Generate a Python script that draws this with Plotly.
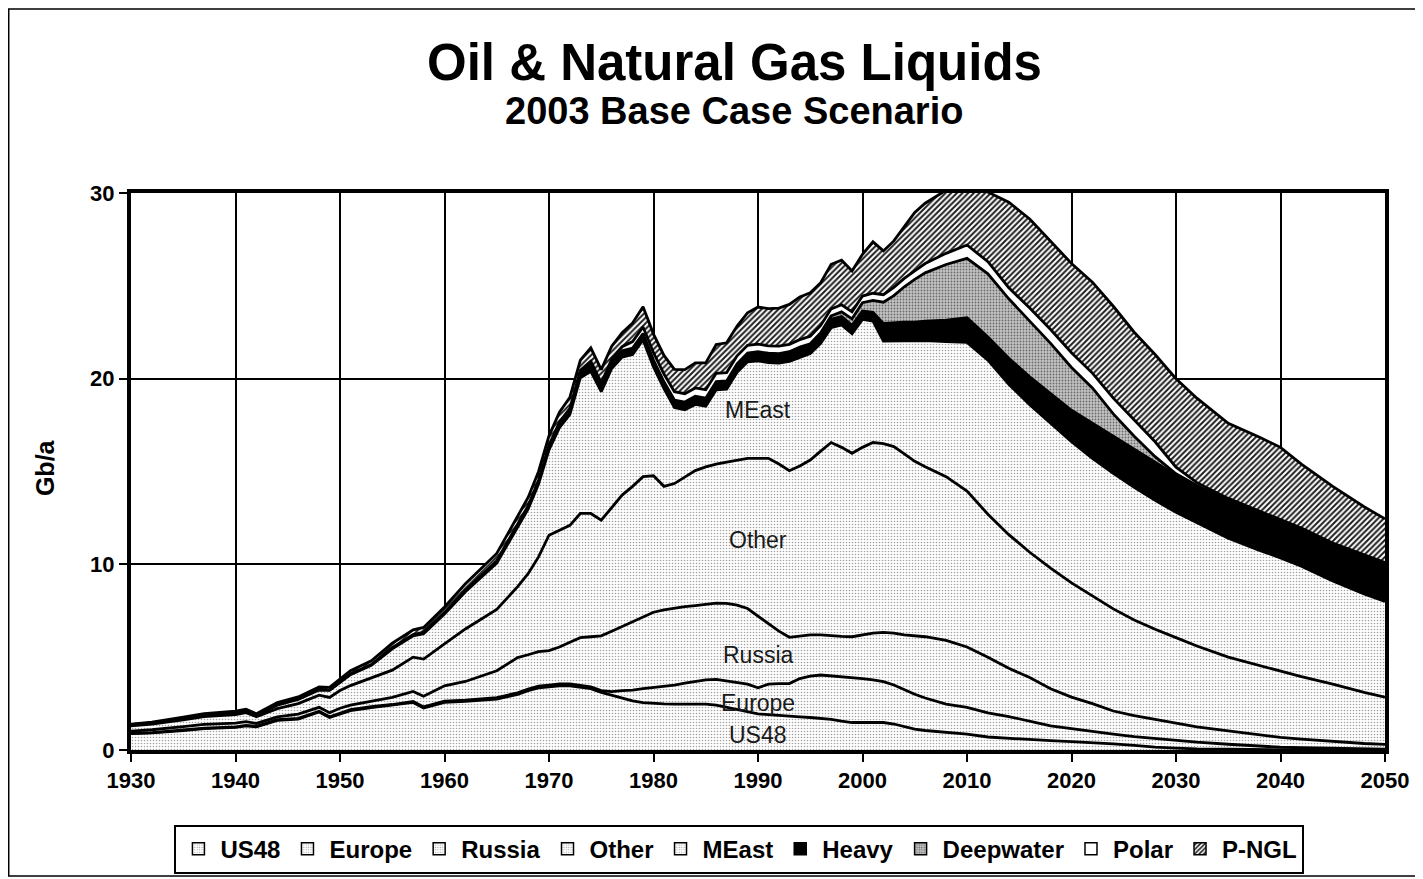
import plotly.graph_objects as go

years = [1930, 1932, 1935, 1937, 1940, 1941, 1942, 1944, 1946, 1948,
         1949, 1950, 1951, 1953, 1955, 1957, 1958, 1960, 1962, 1965,
         1967, 1968, 1969, 1970, 1971, 1972, 1973, 1974, 1975, 1976,
         1977, 1978, 1979, 1980, 1981, 1982, 1983, 1984, 1985, 1986,
         1987, 1988, 1989, 1990, 1991, 1992, 1993, 1994, 1995, 1996,
         1997, 1998, 1999, 2000, 2001, 2002, 2003, 2004, 2005, 2006,
         2008, 2010, 2012, 2014, 2016, 2018, 2020, 2022, 2024, 2026,
         2028, 2030, 2032, 2035, 2038, 2040, 2042, 2045, 2048, 2050]

us48 = [0.88, 0.92, 1.05, 1.15, 1.22, 1.3, 1.25, 1.6, 1.66, 2.05,
        1.75, 1.95, 2.12, 2.28, 2.4, 2.56, 2.26, 2.56, 2.62, 2.74,
        3.0, 3.2, 3.35, 3.4, 3.46, 3.46, 3.4, 3.3, 3.1, 2.95,
        2.8, 2.65, 2.55, 2.5, 2.48, 2.47, 2.47, 2.47, 2.47, 2.42,
        2.3, 2.2, 2.05, 1.95, 1.9, 1.85, 1.8, 1.78, 1.75, 1.7,
        1.65, 1.55, 1.48, 1.48, 1.48, 1.48, 1.4, 1.25, 1.12, 1.05,
        0.95, 0.85, 0.7, 0.62, 0.56, 0.5, 0.45, 0.4, 0.33, 0.25,
        0.15, 0.1, 0.06, 0.04, 0.02, 0.01, 0.0, 0.0, 0.0, 0.0]

europe = [0.02, 0.02, 0.03, 0.03, 0.03, 0.03, 0.03, 0.03, 0.04, 0.04,
          0.04, 0.04, 0.05, 0.05, 0.05, 0.06, 0.06, 0.07, 0.07, 0.08,
          0.08, 0.08, 0.09, 0.1, 0.1, 0.1, 0.1, 0.1, 0.1, 0.2,
          0.4, 0.57, 0.75, 0.87, 0.92, 1.03, 1.13, 1.23, 1.31, 1.38,
          1.42, 1.44, 1.5, 1.4, 1.65, 1.72, 1.78, 2.07, 2.23, 2.34,
          2.35, 2.41, 2.43, 2.37, 2.3, 2.2, 2.1, 2.0, 1.88, 1.75,
          1.52, 1.45, 1.3, 1.18, 0.99, 0.8, 0.7, 0.58, 0.52, 0.47,
          0.47, 0.4, 0.36, 0.27, 0.18, 0.14, 0.12, 0.08, 0.05, 0.04]

russia = [0.12, 0.15, 0.18, 0.2, 0.2, 0.2, 0.15, 0.15, 0.23, 0.21,
          0.22, 0.26, 0.25, 0.3, 0.38, 0.53, 0.58, 0.83, 1.0, 1.45,
          1.9, 1.85, 1.86, 1.85, 1.99, 2.24, 2.55, 2.7, 2.95, 3.25,
          3.45, 3.68, 3.85, 4.05, 4.15, 4.15, 4.12, 4.08, 4.07, 4.11,
          4.18, 4.16, 4.07, 3.85, 3.25, 2.83, 2.49, 2.3, 2.22, 2.16,
          2.15, 2.16, 2.19, 2.35, 2.52, 2.66, 2.8, 2.95, 3.15, 3.3,
          3.43, 3.25, 3.0, 2.6, 2.35, 2.0, 1.7, 1.52, 1.25, 1.13,
          1.03, 0.95, 0.83, 0.72, 0.6, 0.53, 0.46, 0.37, 0.3, 0.26]

other = [0.28, 0.3, 0.37, 0.42, 0.45, 0.48, 0.36, 0.45, 0.57, 0.65,
         0.82, 0.95, 1.05, 1.27, 1.47, 1.85, 2.0, 2.25, 2.83, 3.3,
         3.82, 4.37, 5.1, 6.22, 6.3, 6.3, 6.69, 6.64, 6.23, 6.65,
         7.08, 7.3, 7.57, 7.35, 6.65, 6.7, 6.98, 7.27, 7.4, 7.49,
         7.6, 7.8, 8.09, 8.51, 8.91, 9.0, 8.97, 9.15, 9.42, 9.9,
         10.41, 10.18, 9.88, 10.1, 10.26, 10.16, 10.04, 9.75, 9.4, 9.15,
         8.82, 8.4, 7.7, 7.2, 6.75, 6.5, 6.15, 5.8, 5.5, 5.15,
         4.85, 4.6, 4.35, 3.97, 3.75, 3.57, 3.37, 3.1, 2.75, 2.55]

meast = [0.04, 0.05, 0.07, 0.09, 0.1, 0.1, 0.07, 0.18, 0.22, 0.28,
         0.38, 0.43, 0.59, 0.66, 1.15, 1.15, 1.37, 1.61, 2.0, 2.5,
         3.2, 3.47, 3.93, 4.6, 5.51, 5.98, 7.31, 7.66, 6.92, 7.5,
         7.43, 7.1, 7.36, 5.86, 5.26, 4.1, 3.62, 3.56, 3.26, 4.0,
         3.93, 4.75, 5.2, 5.25, 5.16, 5.44, 5.89, 5.86, 5.73, 5.8,
         6.19, 6.6, 6.44, 6.89, 6.54, 5.52, 5.68, 6.1, 6.5, 6.8,
         7.28, 8.0, 8.3, 8.1, 7.95, 7.8, 7.6, 7.4, 7.3, 7.15,
         6.95, 6.75, 6.65, 6.4, 6.2, 6.1, 5.95, 5.55, 5.3, 5.15]

heavy = [0.02, 0.02, 0.02, 0.02, 0.03, 0.03, 0.03, 0.04, 0.04, 0.05,
         0.03, 0.04, 0.05, 0.05, 0.06, 0.07, 0.07, 0.08, 0.09, 0.12,
         0.15, 0.17, 0.18, 0.2, 0.22, 0.25, 0.3, 0.36, 0.3, 0.3,
         0.32, 0.33, 0.33, 0.35, 0.35, 0.38, 0.4, 0.42, 0.42, 0.42,
         0.43, 0.43, 0.44, 0.45, 0.45, 0.45, 0.45, 0.45, 0.45, 0.45,
         0.45, 0.45, 0.45, 0.45, 0.47, 0.95, 1.0, 1.0, 1.0, 1.05,
         1.15, 1.33, 1.25, 1.4, 1.5, 1.6, 1.7, 1.9, 2.0, 2.05,
         2.05, 2.0, 2.0, 2.05, 2.05, 2.05, 2.05, 2.05, 2.1, 2.1]

deepwater = [0, 0, 0, 0, 0, 0, 0, 0, 0, 0,
             0, 0, 0, 0, 0, 0, 0, 0, 0, 0,
             0.01, 0.01, 0.01, 0.02, 0.02, 0.02, 0.02, 0.02, 0.02, 0.02,
             0.02, 0.02, 0.02, 0.02, 0.02, 0.02, 0.02, 0.02, 0.02, 0.02,
             0.02, 0.02, 0.03, 0.04, 0.05, 0.06, 0.07, 0.09, 0.08, 0.12,
             0.18, 0.25, 0.35, 0.45, 0.65, 1.15, 1.45, 1.9, 2.3, 2.6,
             3.0, 3.2, 3.4, 3.2, 3.0, 2.7, 2.3, 1.9, 1.2, 0.7,
             0.3, 0.08, 0, 0, 0, 0, 0, 0, 0, 0]

polar = [0, 0, 0, 0, 0, 0, 0, 0, 0, 0,
         0, 0, 0, 0, 0, 0, 0, 0, 0, 0,
         0, 0, 0.01, 0.03, 0.05, 0.05, 0.08, 0.16, 0.15, 0.18,
         0.22, 0.35, 0.35, 0.4, 0.42, 0.45, 0.45, 0.45, 0.45, 0.45,
         0.45, 0.43, 0.42, 0.41, 0.4, 0.4, 0.4, 0.4, 0.4, 0.4,
         0.38, 0.38, 0.38, 0.36, 0.38, 0.4, 0.45, 0.45, 0.45, 0.5,
         0.6, 0.72, 0.65, 0.6, 0.7, 0.75, 0.8, 0.8, 0.85, 0.9,
         0.8, 0.35, 0.15, 0.1, 0.05, 0.02, 0, 0, 0, 0]

pngl = [0.03, 0.04, 0.05, 0.05, 0.06, 0.06, 0.06, 0.1, 0.1, 0.12,
        0.13, 0.15, 0.16, 0.19, 0.24, 0.25, 0.26, 0.3, 0.34, 0.4,
        0.44, 0.45, 0.47, 0.5, 0.55, 0.6, 0.55, 0.72, 0.72, 0.7,
        0.75, 1.0, 1.1, 1.0, 1.0, 1.2, 1.3, 1.35, 1.45, 1.55,
        1.6, 1.6, 1.75, 2.0, 2.0, 2.05, 2.15, 2.3, 2.35, 2.3,
        2.4, 2.4, 2.2, 2.25, 2.77, 2.36, 2.5, 2.8, 3.15, 3.25,
        3.4, 3.2, 3.75, 4.6, 4.8, 4.75, 4.8, 4.9, 4.95, 4.7,
        4.7, 4.77, 4.55, 4.05, 4.0, 3.88, 3.45, 3.05, 2.6, 2.35]

series_names = ["US48", "Europe", "Russia", "Other", "MEast",
                "Heavy", "Deepwater", "Polar", "P-NGL"]
series_values = [us48, europe, russia, other, meast,
                 heavy, deepwater, polar, pngl]

label_names = ["MEast", "Other", "Russia", "Europe", "US48"]
label_x = [1990, 1990, 1990, 1990, 1990]
label_y = [18.3, 11.3, 5.1, 2.55, 0.8]

FONT = "Liberation Sans, Arial, sans-serif"

stipple = dict(shape=".", fgcolor="#a2a2a2", bgcolor="white", size=3,
               solidity=0.22, fillmode="replace")
deep_pat = dict(shape=".", fgcolor="#6a6a6a", bgcolor="#c4c4c4", size=3,
                solidity=0.3, fillmode="replace")
hatch = dict(shape="/", fgcolor="#1e1e1e", bgcolor="white", size=4,
             solidity=0.5, fillmode="replace")
styles = {
    "US48": dict(fillpattern=stipple),
    "Europe": dict(fillpattern=stipple),
    "Russia": dict(fillpattern=stipple),
    "Other": dict(fillpattern=stipple),
    "MEast": dict(fillpattern=stipple),
    "Heavy": dict(fillcolor="black"),
    "Deepwater": dict(fillpattern=deep_pat),
    "Polar": dict(fillcolor="white"),
    "P-NGL": dict(fillpattern=hatch),
}
legend_marker = {
    "US48": dict(color="white", pattern=stipple),
    "Europe": dict(color="white", pattern=stipple),
    "Russia": dict(color="white", pattern=stipple),
    "Other": dict(color="white", pattern=stipple),
    "MEast": dict(color="white", pattern=stipple),
    "Heavy": dict(color="black"),
    "Deepwater": dict(color="#c4c4c4", pattern=deep_pat),
    "Polar": dict(color="white"),
    "P-NGL": dict(color="white", pattern=hatch),
}

fig = go.Figure()
for name, vals in zip(series_names, series_values):
    fig.add_trace(go.Scatter(
        x=years, y=vals, name=name, mode="lines", stackgroup="one",
        line=dict(color="black", width=2.8), showlegend=False,
        hoverinfo="x+y+name", **styles[name]))

# legend swatches (square boxes like the original)
for name in series_names:
    m = dict(legend_marker[name])
    m["line"] = dict(color="black", width=1.5)
    fig.add_trace(go.Bar(x=[years[0]], y=[None], name=name, marker=m,
                         showlegend=True, hoverinfo="skip"))

for t, lx, ly in zip(label_names, label_x, label_y):
    fig.add_annotation(x=lx, y=ly, xref="x", yref="y", text=t, showarrow=False,
                       xanchor="center", yanchor="middle",
                       font=dict(family=FONT, size=23, color="#1a1a1a"))

fig.add_annotation(xref="paper", yref="paper", x=0.481, y=1.235,
                   xanchor="center", yanchor="middle",
                   text="<b>Oil & Natural Gas Liquids</b>", showarrow=False,
                   font=dict(family=FONT, size=51, color="black"))
fig.add_annotation(xref="paper", yref="paper", x=0.481, y=1.148,
                   xanchor="center", yanchor="middle",
                   text="<b>2003 Base Case Scenario</b>", showarrow=False,
                   font=dict(family=FONT, size=38, color="black"))
fig.add_annotation(xref="paper", yref="paper", x=-0.069, y=0.507,
                   xanchor="center", yanchor="middle",
                   text="<b>Gb/a</b>", textangle=-90, showarrow=False,
                   font=dict(family=FONT, size=25, color="black"))

fig.add_shape(type="rect", xref="paper", yref="paper",
              x0=-0.0975, x1=1.0271, y0=-0.226, y1=1.3305,
              line=dict(color="black", width=1.5), layer="below")

axis_common = dict(showline=True, linecolor="black", linewidth=4, mirror=True,
                   showgrid=True, gridcolor="black", gridwidth=2,
                   ticks="outside", ticklen=8, tickwidth=2, tickcolor="black",
                   zeroline=False, automargin=False,
                   tickfont=dict(family=FONT, size=22, color="black", weight="bold"))

fig.update_layout(
    width=1423, height=879,
    margin=dict(l=123, r=46, t=185, b=137, autoexpand=False),
    paper_bgcolor="white", plot_bgcolor="white",
    showlegend=True, barmode="overlay",
    legend=dict(orientation="h", xref="container", yref="container",
                x=0.514, xanchor="center", y=0.0432, yanchor="middle",
                bordercolor="black", borderwidth=2, bgcolor="white",
                traceorder="normal", itemwidth=34,
                font=dict(family=FONT, size=24, color="black", weight="bold")),
    xaxis=dict(range=[1930, 2050], dtick=10, tick0=1930, **axis_common),
    yaxis=dict(range=[0, 30], dtick=10, tick0=0, **axis_common),
)

fig.write_html("out.html")
